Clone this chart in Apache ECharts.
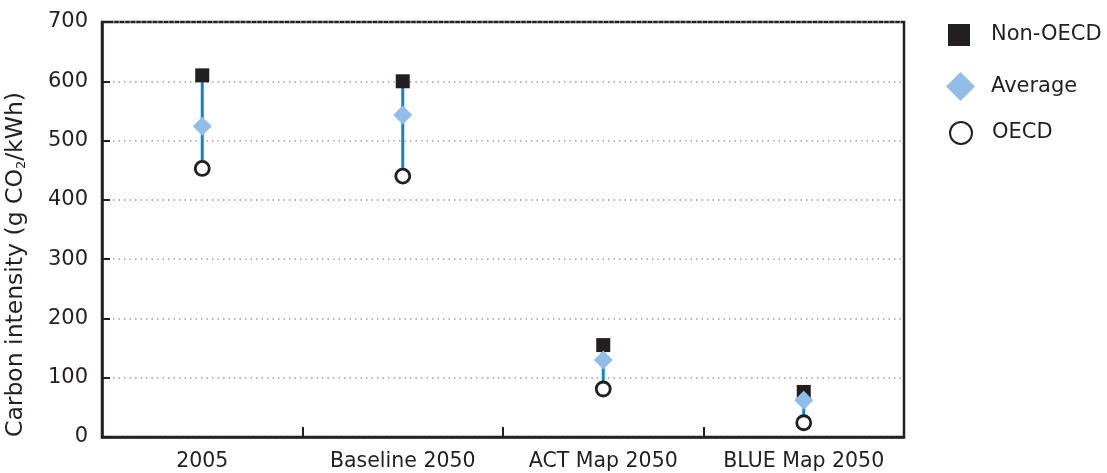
<!DOCTYPE html>
<html>
<head>
<meta charset="utf-8">
<style>html,body{margin:0;padding:0;background:#fff}#c{width:1107px;height:473px}</style>
<script src="https://cdn.jsdelivr.net/npm/echarts@6/dist/echarts.min.js"></script>
</head>
<body>
<div id="c"></div>
<script>
const categories = ['2005', 'Baseline 2050', 'ACT Map 2050', 'BLUE Map 2050'];
const nonOecd = [610, 600, 155, 76];
const average = [524, 543, 130, 62];
const oecd = [453, 440, 81, 24];
const yTicks = { min: 0, max: 700, interval: 100 };

const FONT = 'DejaVu Sans';
const DARK = '#231f20';
const rangeData = categories.map((c, i) => [i, nonOecd[i], oecd[i]]);

const chart = echarts.init(document.getElementById('c'), null, { renderer: 'canvas' });
chart.setOption({
  animation: false,
  backgroundColor: '#fff',
  textStyle: { fontFamily: FONT },
  grid: { left: 102, right: 203, top: 22, bottom: 36, containLabel: false, outerBoundsMode: 'none',
          show: true, borderColor: DARK, borderWidth: 2.5, backgroundColor: 'transparent' },
  legend: [
    { data: ['Non-OECD'], left: 943, top: 19, orient: 'vertical', itemWidth: 22, itemHeight: 22,
      textStyle: { fontFamily: FONT, fontSize: 21, color: DARK, padding: [0, 0, 0, 16] } },
    { data: ['Average'], left: 941, top: 67, orient: 'vertical', itemWidth: 29, itemHeight: 29,
      textStyle: { fontFamily: FONT, fontSize: 21, color: DARK, padding: [0, 0, 0, 11] } },
    { data: ['OECD'], left: 944, top: 116, orient: 'vertical', itemWidth: 22, itemHeight: 22,
      textStyle: { fontFamily: FONT, fontSize: 21, color: DARK, padding: [0, 0, 0, 15] } }
  ],
  xAxis: {
    type: 'category',
    data: categories,
    boundaryGap: true,
    axisLine: { lineStyle: { color: DARK, width: 2.5 } },
    axisTick: { show: true, inside: true, length: 10, interval: 0, lineStyle: { color: DARK, width: 2 } },
    axisLabel: { fontFamily: FONT, fontSize: 20.5, color: DARK, margin: 14, interval: 0 },
    splitLine: { show: false }
  },
  yAxis: {
    type: 'value',
    min: yTicks.min, max: yTicks.max, interval: yTicks.interval,
    name: '{t|Carbon intensity (g CO}{s|2}{t|/kWh)}',
    nameLocation: 'middle',
    nameGap: 74,
    nameRotate: 90,
    nameTextStyle: {
      padding: [0, 70, 0, 0],
      rich: {
        t: { fontFamily: FONT, fontSize: 23.5, color: DARK },
        s: { fontFamily: FONT, fontSize: 13, color: DARK, verticalAlign: 'bottom', padding: [10, 0, 0, 0] }
      }
    },
    axisLine: { show: true, lineStyle: { color: DARK, width: 2.5 } },
    axisTick: { show: true, inside: true, length: 8, lineStyle: { color: DARK, width: 2 } },
    axisLabel: { fontFamily: FONT, fontSize: 21, color: DARK, margin: 14 },
    splitLine: { show: true, lineStyle: { color: '#a0a0a0', width: 1.5, type: [1.5, 4] } }
  },
  series: [
    {
      type: 'custom',
      name: 'range',
      data: rangeData,
      encode: { x: 0, y: [1, 2] },
      z: 1,
      renderItem: function (params, api) {
        const p1 = api.coord([api.value(0), api.value(1)]);
        const p2 = api.coord([api.value(0), api.value(2)]);
        return { type: 'line', shape: { x1: p1[0], y1: p1[1], x2: p2[0], y2: p2[1] },
                 style: { stroke: '#0f86c9', lineWidth: 3 } };
      }
    },
    {
      type: 'scatter', name: 'Non-OECD', data: nonOecd, symbol: 'rect', symbolSize: 14, z: 3,
      itemStyle: { color: DARK, opacity: 1 }
    },
    {
      type: 'scatter', name: 'Average', data: average, symbol: 'diamond', symbolSize: 19, z: 4,
      itemStyle: { color: '#92bde6', opacity: 1 }
    },
    {
      type: 'scatter', name: 'OECD', data: oecd, symbol: 'circle', symbolSize: 14, z: 3,
      itemStyle: { color: '#ffffff', borderColor: DARK, borderWidth: 2.8, opacity: 1 }
    }
  ]
});
</script>
</body>
</html>
